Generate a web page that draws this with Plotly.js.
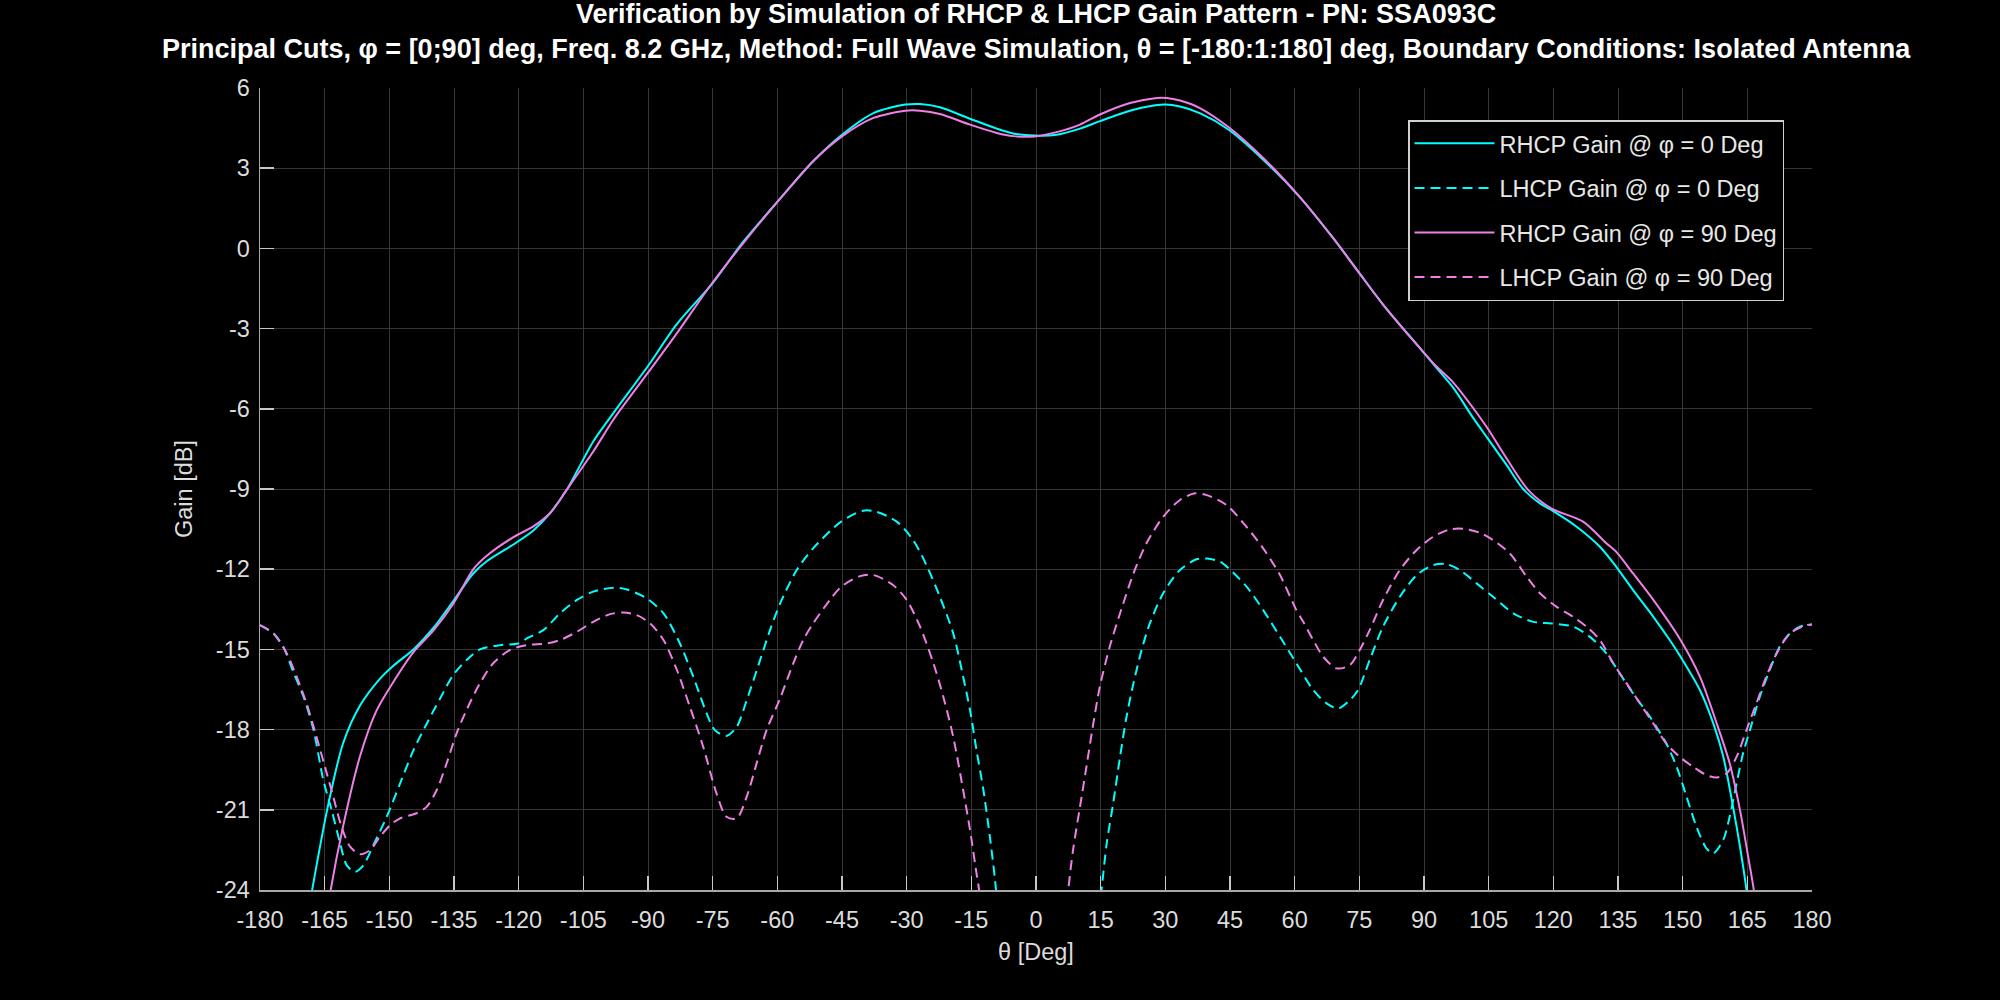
<!DOCTYPE html>
<html>
<head>
<meta charset="utf-8">
<script src="https://cdn.plot.ly/plotly-3.0.1.min.js"></script>
<style>html,body{margin:0;padding:0;background:#000;}#chart{width:2000px;height:1000px;}</style>
</head>
<body>
<div id="chart"></div>
<script>
// [theta (deg), gain (dB)] pairs
const rhcpPhi0 = [[-180,-36],[-172,-28],[-167.9,-24],[-164.1,-20.75],[-160.7,-18.5],[-156.8,-17.1],[-152.2,-16.1],[-149,-15.6],[-144.4,-15.0],[-139.8,-14.2],[-135.2,-13.2],[-130.5,-12.15],[-127.4,-11.7],[-120.5,-11.0],[-116.6,-10.55],[-112.7,-9.9],[-108.9,-9.04],[-102.7,-7.22],[-98,-6.15],[-90,-4.4],[-83.4,-2.85],[-75,-1.3],[-67.9,0.25],[-59.4,1.85],[-51.7,3.26],[-45,4.25],[-37.7,5.06],[-30.3,5.38],[-26.9,5.4],[-22.3,5.28],[-15.3,4.85],[-9.1,4.48],[-5.3,4.30],[-0.3,4.22],[4.8,4.25],[10.2,4.48],[14.7,4.75],[21.8,5.15],[29.7,5.38],[33.4,5.31],[38,5.06],[44.7,4.44],[52.7,3.32],[61.2,1.92],[68.9,0.39],[74.7,-0.86],[80.5,-2.1],[89.7,-3.85],[92.9,-4.47],[96.8,-5.22],[101.4,-6.34],[104.7,-7.09],[109.1,-8.09],[113,-9.0],[116.9,-9.54],[119.6,-9.79],[125.4,-10.41],[130.8,-11.16],[134.6,-11.91],[138.5,-12.78],[143.2,-13.78],[147,-14.65],[149.5,-15.27],[154,-16.52],[157.1,-17.77],[159.4,-19.0],[161.7,-20.9],[163.3,-22.38],[164.8,-24],[170,-32],[180,-44]];
const lhcpPhi0 = [[-180,-14.09],[-176.9,-14.4],[-174.6,-14.9],[-172.3,-15.84],[-169.9,-16.77],[-167.6,-18.0],[-165.3,-19.89],[-163.4,-21.0],[-161.4,-22.26],[-159.9,-23.07],[-158,-23.32],[-156,-23.07],[-153.7,-22.32],[-150.6,-21.26],[-147.5,-20.01],[-144.4,-18.77],[-141.3,-17.77],[-138.2,-16.83],[-135.2,-15.96],[-132.1,-15.4],[-129,-15.0],[-124.3,-14.84],[-120.1,-14.78],[-118.1,-14.59],[-114.3,-14.28],[-110.4,-13.65],[-106.5,-13.15],[-102.7,-12.84],[-98,-12.69],[-94.9,-12.76],[-90.3,-13.09],[-86.4,-13.65],[-82.6,-14.78],[-79.5,-16.02],[-76.4,-17.39],[-74.5,-18.02],[-71.8,-18.24],[-69.4,-17.89],[-67.1,-16.9],[-64,-15.4],[-61.7,-14.28],[-59.4,-13.3],[-55.5,-12.03],[-51.7,-11.22],[-45.2,-10.22],[-40.1,-9.81],[-37,-9.85],[-32.3,-10.22],[-28.5,-10.91],[-25.4,-11.85],[-22.3,-13.03],[-19.2,-14.4],[-16.9,-16.02],[-15.3,-17.27],[-13.8,-18.77],[-12.2,-20.26],[-10.7,-22.01],[-9.5,-23.63],[-7,-28],[0,-36],[8,-32],[13.5,-26.5],[15.2,-24],[16.4,-22.26],[17.9,-20.76],[19.5,-19.01],[21,-17.52],[22.6,-16.27],[24.5,-15.02],[26.4,-14.03],[29.5,-12.9],[33.4,-12.03],[37.2,-11.63],[39.6,-11.6],[42.7,-11.72],[44.7,-11.97],[48.9,-12.66],[52.7,-13.53],[56.6,-14.53],[60.4,-15.52],[64.3,-16.52],[67.4,-17.02],[70.1,-17.21],[72.8,-16.9],[74.7,-16.52],[77.4,-15.4],[80.5,-14.15],[84.4,-13.03],[88.3,-12.22],[92.1,-11.85],[95.2,-11.81],[98.3,-12.03],[102.2,-12.53],[106,-13.03],[110.7,-13.65],[115.3,-13.97],[119.6,-14.03],[124.6,-14.15],[128.5,-14.53],[132.3,-15.15],[135.4,-15.9],[138.5,-16.65],[142.4,-17.52],[146.2,-18.52],[148.6,-19.39],[150.9,-20.51],[153.2,-21.63],[155.5,-22.44],[157.1,-22.63],[159.4,-22.13],[160.9,-21.26],[162.5,-20.01],[164,-18.89],[165.6,-18.02],[167.9,-16.77],[170.2,-15.77],[172.5,-14.9],[174.9,-14.4],[177.2,-14.15],[180,-14.07]];
const rhcpPhi90 = [[-180,-40],[-170,-31],[-163.6,-24],[-160.7,-21.6],[-156.8,-19.0],[-153,-17.3],[-149,-16.2],[-144.4,-15.1],[-139.8,-14.3],[-135.2,-13.3],[-130.5,-12.0],[-127.4,-11.5],[-121.2,-10.8],[-116.6,-10.4],[-112.7,-9.9],[-108.9,-9.04],[-102.7,-7.6],[-98,-6.4],[-90,-4.65],[-83.4,-3.2],[-75.4,-1.36],[-67.9,0.2],[-59.4,1.85],[-51.7,3.26],[-45,4.19],[-37.7,4.88],[-30.3,5.15],[-26.9,5.15],[-22.3,5.03],[-15.3,4.63],[-9.1,4.32],[-5.3,4.2],[-0.3,4.19],[4.8,4.35],[10.2,4.63],[14.7,5.0],[21.8,5.44],[28,5.63],[30.3,5.63],[33.4,5.53],[38,5.25],[44.7,4.53],[52.7,3.38],[61.2,1.92],[68.9,0.39],[74.7,-0.86],[80.5,-2.1],[89.7,-3.85],[92.9,-4.42],[96.8,-5.02],[101.4,-5.97],[104.7,-6.72],[109.1,-7.84],[114.2,-9.04],[119.6,-9.73],[126.9,-10.22],[132.3,-11.03],[134.6,-11.35],[138.5,-12.16],[143.2,-13.15],[149.5,-14.65],[154,-16.02],[157.9,-17.77],[160.9,-19.26],[163.3,-21.01],[165.2,-22.76],[166.5,-24],[172,-31],[180,-42]];
const lhcpPhi90 = [[-180,-14.09],[-176.9,-14.4],[-173.8,-15.15],[-171.5,-16.02],[-169.2,-17.02],[-166.9,-18.27],[-164.5,-19.64],[-163,-20.51],[-161.1,-21.63],[-159.1,-22.38],[-156.8,-22.66],[-154.5,-22.51],[-152.2,-22.01],[-149.8,-21.57],[-147.5,-21.32],[-143.7,-21.13],[-141.3,-20.88],[-139,-20.26],[-136.7,-19.26],[-134.4,-18.14],[-132.1,-17.27],[-129,-16.27],[-125.9,-15.52],[-122,-15.02],[-118.1,-14.84],[-113.5,-14.78],[-110.4,-14.65],[-106.5,-14.34],[-102.7,-13.97],[-98.8,-13.68],[-95.7,-13.62],[-92.6,-13.72],[-89.5,-14.03],[-86.4,-14.65],[-83.3,-15.77],[-80.3,-17.14],[-77.2,-18.64],[-74.1,-20.39],[-71.8,-21.26],[-69.4,-21.32],[-67.1,-20.51],[-64.8,-19.26],[-62.5,-18.02],[-59.4,-16.85],[-56.3,-15.52],[-54,-14.65],[-51.7,-14.03],[-47.8,-13.15],[-45.2,-12.66],[-40.8,-12.26],[-37.7,-12.22],[-33.1,-12.6],[-30,-13.15],[-26.9,-14.15],[-23.8,-15.52],[-21.5,-16.77],[-19.2,-18.27],[-16.9,-20.26],[-15.3,-21.76],[-13.8,-23.38],[-13.2,-24],[-11,-27],[-3,-34],[4,-32],[6.5,-26.5],[7.5,-24],[8.6,-22.5],[10.2,-20.89],[11.7,-19.39],[13.3,-17.77],[14.8,-16.4],[17.1,-14.9],[19.5,-13.65],[22.6,-12.16],[25.6,-11.04],[29.5,-10.04],[33.4,-9.41],[36.9,-9.16],[39.6,-9.23],[44.2,-9.6],[48.8,-10.41],[52.7,-11.22],[56.6,-12.22],[60.4,-13.53],[62,-13.97],[64.3,-14.65],[66.6,-15.27],[69.7,-15.71],[72.8,-15.59],[75.1,-15.02],[77.4,-14.28],[80.5,-13.15],[84.4,-12.03],[88.3,-11.28],[92.1,-10.79],[96,-10.51],[99.1,-10.49],[103,-10.64],[106,-10.91],[109.9,-11.41],[113.8,-12.28],[116.9,-12.9],[120.7,-13.4],[124.6,-13.78],[127.7,-14.15],[130.8,-14.65],[133.9,-15.52],[137,-16.27],[140.1,-17.02],[143.2,-17.77],[146.2,-18.52],[149.3,-19.02],[152.4,-19.39],[155.5,-19.7],[157.9,-19.79],[160.2,-19.64],[162.5,-19.02],[164.8,-18.02],[167.1,-17.02],[169.4,-16.02],[171.8,-15.15],[174.9,-14.4],[178.7,-14.09],[180,-14.07]];

const seriesNames = ['RHCP Gain @ \u03C6 = 0 Deg','LHCP Gain @ \u03C6 = 0 Deg','RHCP Gain @ \u03C6 = 90 Deg','LHCP Gain @ \u03C6 = 90 Deg'];
const titleLines = ['Verification by Simulation of RHCP & LHCP Gain Pattern - PN: SSA093C',
  'Principal Cuts, \u03C6 = [0;90] deg, Freq. 8.2 GHz, Method: Full Wave Simulation, \u03B8 = [-180:1:180] deg, Boundary Conditions: Isolated Antenna'];
const xTicks = [-180,-165,-150,-135,-120,-105,-90,-75,-60,-45,-30,-15,0,15,30,45,60,75,90,105,120,135,150,165,180];
const yTicks = [-24,-21,-18,-15,-12,-9,-6,-3,0,3,6];

const CYAN = '#00FFFF', PINK = '#F07FE6';
const FONT = 'Liberation Sans, Arial, Helvetica, sans-serif';
const dashed = '10px,6px';

function mk(data, name, color, dash, grp){
  return {x: data.map(p=>p[0]), y: data.map(p=>p[1]), name: name, type:'scatter', mode:'lines',
    legendgroup: grp,
    line:{color: color, width: 2, dash: dash, shape:'spline', smoothing: 0.8}};
}
const traces = [
  mk(rhcpPhi0, seriesNames[0], CYAN, 'solid','a'),
  mk(lhcpPhi0, seriesNames[1], CYAN, dashed,'b'),
  mk(rhcpPhi90, seriesNames[2], PINK, 'solid','c'),
  mk(lhcpPhi90, seriesNames[3], PINK, dashed,'d')
];

const axisCommon = {
  showline:true, linecolor:'#a8a8a8', linewidth:1.5, mirror:false,
  ticks:'inside', ticklen:14, tickwidth:1.5, tickcolor:'#c8c8c8',
  showgrid:true, gridcolor:'#363636', gridwidth:1, zeroline:false,
  tickfont:{family:FONT, size:23.5, color:'#dcdcdc'}
};

const layout = {
  width:2000, height:1000,
  paper_bgcolor:'#000', plot_bgcolor:'#000',
  margin:{l:260, r:188, t:88, b:110},
  annotations:[
    {text:'<b>'+titleLines[0]+'</b>', xref:'paper', yref:'paper', x:0.5, y:1.0923, xanchor:'center', yanchor:'middle', showarrow:false,
      font:{family:FONT, size:27, color:'#ffffff'}},
    {text:'<b>'+titleLines[1]+'</b>', xref:'paper', yref:'paper', x:0.5, y:1.0486, xanchor:'center', yanchor:'middle', showarrow:false,
      font:{family:FONT, size:27, color:'#ffffff'}}
  ],
  xaxis: Object.assign({}, axisCommon, {range:[-180,180], tickvals:xTicks, ticktext:xTicks.map(String), ticklabelstandoff:8,
    title:{text:'\u03B8 [Deg]', font:{family:FONT, size:23.5, color:'#dcdcdc'}, standoff:12}}),
  yaxis: Object.assign({}, axisCommon, {range:[-24,6], tickvals:yTicks, ticktext:yTicks.map(String), ticklabelstandoff:4,
    title:{text:'Gain [dB]', font:{family:FONT, size:23.5, color:'#dcdcdc'}, standoff:16}}),
  showlegend:true,
  legend:{x:0.7397, y:0.960, xanchor:'left', yanchor:'top', bgcolor:'#000', bordercolor:'#d0d0d0', borderwidth:1.5,
    font:{family:FONT, size:23.5, color:'#e8e8e8'}, traceorder:'grouped', tracegroupgap:11, itemwidth:80}
};

Plotly.newPlot('chart', traces, layout, {staticPlot:true, displayModeBar:false});
</script>
</body>
</html>
